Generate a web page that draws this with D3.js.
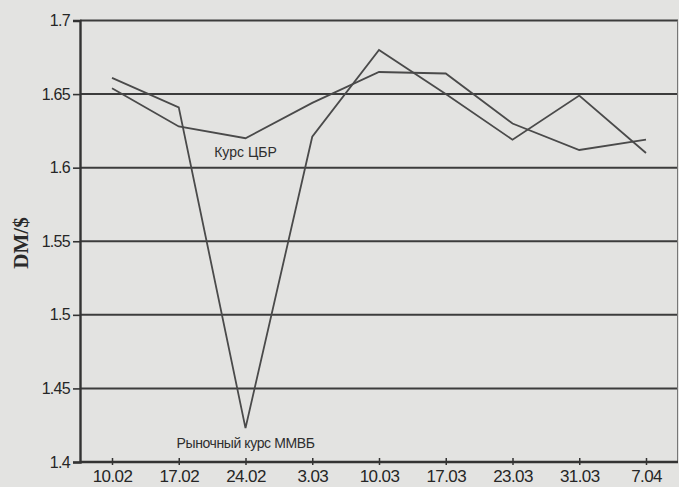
<!DOCTYPE html>
<html>
<head>
<meta charset="utf-8">
<script src="https://cdn.jsdelivr.net/npm/d3@7"></script>
<style>
  body { margin:0; background:#e3e3e1; }
  svg { display:block; }
  .tick text { font-family:"Liberation Sans Narrow","Liberation Sans",sans-serif; fill:#262626; }
</style>
</head>
<body>
<div id="svg"></div>
<script>
// dates on the x axis
var dates = ["10.02","17.02","24.02","3.03","10.03","17.03","23.03","31.03","7.04"];

// DM per $ : official rate (ЦБР)
var cbr = [1.654, 1.628, 1.620, 1.644, 1.665, 1.664, 1.630, 1.612, 1.619];

// DM per $ : market rate (ММВБ)
var mmvb = [1.661, 1.641, 1.423, 1.621, 1.680, 1.650, 1.619, 1.649, 1.610];

var yticks = [1.4, 1.45, 1.5, 1.55, 1.6, 1.65, 1.7];
var ylabels = ["1.4","1.45","1.5","1.55","1.6","1.65","1.7"];

var W = 679, H = 487;
var margin = {top: 20.5, left: 80, right: 1, bot: 25};

var svg = d3.select("#svg").append("svg")
    .attr("width", W)
    .attr("height", H);

var x = d3.scalePoint()
    .domain(dates)
    .range([112, 646]);

var y = d3.scaleLinear()
    .domain([1.4, 1.7])
    .range([H - margin.bot, margin.top]);

// horizontal rules
svg.append("g")
    .selectAll("line")
    .data(yticks.slice(1))
    .join("line")
    .attr("x1", margin.left)
    .attr("x2", W - margin.right)
    .attr("y1", function(d){ return y(d); })
    .attr("y2", function(d){ return y(d); })
    .attr("stroke", "#3c3c3c")
    .attr("stroke-width", 2);

// right border, faint
svg.append("line")
    .attr("x1", W - 1.5).attr("x2", W - 1.5)
    .attr("y1", y(1.7)).attr("y2", y(1.4))
    .attr("stroke", "#777").attr("stroke-width", 1);

// y axis
var ya = svg.append("g")
    .attr("transform", "translate(" + margin.left + ",0)")
    .call(d3.axisLeft(y).tickValues(yticks)
          .tickFormat(function(d, i){ return ylabels[i]; })
          .tickSize(7).tickPadding(3));
ya.select(".domain").attr("stroke", "#333").attr("stroke-width", 2.4);
ya.selectAll(".tick line").attr("stroke", "#333").attr("stroke-width", 1.6);
ya.selectAll(".tick text").attr("font-size", 16).attr("letter-spacing", "-0.7px");

// x axis
var xa = svg.append("g")
    .attr("transform", "translate(0," + y(1.4) + ")")
    .call(d3.axisBottom(x).tickSize(0).tickPadding(8));
xa.select(".domain").remove();
xa.append("line")
    .attr("x1", margin.left).attr("x2", W - margin.right)
    .attr("stroke", "#333").attr("stroke-width", 2.4);
xa.selectAll(".tick line").attr("y1", -4).attr("y2", 3)
    .attr("stroke", "#333").attr("stroke-width", 1.5);
xa.selectAll(".tick text").attr("font-size", 17).attr("letter-spacing", "-0.6px");

// y title
svg.append("text")
    .attr("transform", "translate(28,243) rotate(-90)")
    .attr("text-anchor", "middle")
    .attr("font-family", "'Liberation Serif', 'DejaVu Serif', serif")
    .attr("font-size", 21)
    .attr("font-weight", "bold")
    .attr("fill", "#2a2a2a")
    .text("DM/$");

// the two series
var line = d3.line()
    .x(function(d, i){ return x(dates[i]); })
    .y(function(d){ return y(d); });

svg.selectAll("path.serie")
    .data([cbr, mmvb])
    .join("path")
    .attr("class", "serie")
    .attr("d", line)
    .attr("fill", "none")
    .attr("stroke", "#4a4a4a")
    .attr("stroke-width", 1.8)
    .attr("stroke-linejoin", "miter");

// labels near lines
svg.append("text")
    .attr("x", x("24.02")).attr("y", y(1.6) - 11)
    .attr("text-anchor", "middle")
    .attr("font-family", "'Liberation Sans', sans-serif")
    .attr("font-size", 14)
    .attr("fill", "#2e2e2e")
    .text("Курс ЦБР");

svg.append("text")
    .attr("x", x("24.02")).attr("y", y(1.4) - 14)
    .attr("text-anchor", "middle")
    .attr("font-family", "'Liberation Sans', sans-serif")
    .attr("font-size", 14)
    .attr("letter-spacing", "-0.4px")
    .attr("fill", "#2e2e2e")
    .text("Рыночный курс ММВБ");
</script>
</body>
</html>
